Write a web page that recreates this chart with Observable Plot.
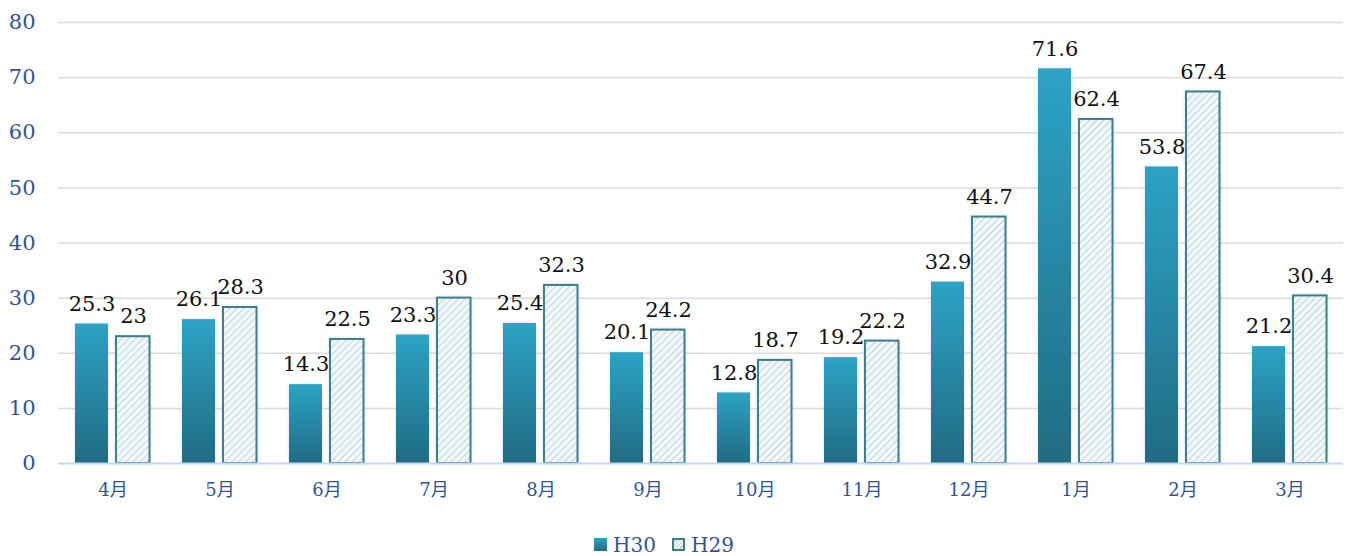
<!DOCTYPE html>
<html><head><meta charset="utf-8">
<script src="https://cdn.jsdelivr.net/npm/d3@7"></script>
<script src="https://cdn.jsdelivr.net/npm/@observablehq/plot@0.6"></script>
<style>
body{margin:0;background:#fff;font-family:"DejaVu Serif","Noto Sans CJK JP",serif;}
#chart svg{display:block;}
#legend{height:31px;padding-top:4px;display:flex;justify-content:center;align-items:center;font-size:20px;color:#2f5496;padding-right:26px;}
#legend .item{display:flex;align-items:center;margin:0 8px;}
#legend .sw{width:13px;height:13px;margin-right:6px;box-sizing:border-box;}
</style></head><body>
<div id="chart"></div>
<div id="legend"></div>
<script>
const months = ["4月","5月","6月","7月","8月","9月","10月","11月","12月","1月","2月","3月"];
const seriesNames = ["H30","H29"];
const h30 = [25.3,26.1,14.3,23.3,25.4,20.1,12.8,19.2,32.9,71.6,53.8,21.2];
const h29 = [23,28.3,22.5,30,32.3,24.2,18.7,22.2,44.7,62.4,67.4,30.4];
const yTicks = [0,10,20,30,40,50,60,70,80];

const d30 = months.map((m,i)=>({month:m, series:"H30", value:h30[i]}));
const d29 = months.map((m,i)=>({month:m, series:"H29", value:h29[i]}));

const font = '"DejaVu Serif","Noto Sans CJK JP",serif';
const chart = Plot.plot({
  width:1354, height:525,
  marginTop:22, marginBottom:62, marginLeft:58, marginRight:11,
  style:{fontFamily:font, background:"white", overflow:"visible"},
  x:{domain:months, padding:0, label:null},
  y:{domain:[0,80], label:null},
  marks:[
    Plot.ruleY(yTicks.filter(d=>d>0), {stroke:"#dcdcdc", strokeWidth:1.5}),
    Plot.axisY({ticks:yTicks, tickSize:0, tickPadding:23, fontSize:21, fill:"#2f5496", label:null}),
    Plot.axisX({tickSize:0, tickPadding:20, fontSize:18, fill:"#2f5496", label:null}),
    Plot.barY(d30, {x:"month", y:"value", insetLeft:16, insetRight:58, fill:"url(#gradH30)", className:"b30"}),
    Plot.barY(d29, {x:"month", y:"value", insetLeft:57, insetRight:16.5, fill:"url(#hatchH29)", stroke:"#3f7f8c", strokeWidth:2, className:"b29"}),
    Plot.ruleY([0], {stroke:"#c6d6ec", strokeWidth:2}),
    Plot.text(d30, {x:"month", y:"value", text:d=>String(d.value), dx:-21, dy:-20, fontSize:21, fill:"#111"}),
    Plot.text(d29, {x:"month", y:"value", text:d=>String(d.value), dx:20.5, dy:-20, fontSize:21, fill:"#111"})
  ]
});

const svg = d3.select(chart);
const defs = svg.insert("defs", ":first-child");
const g = defs.append("linearGradient").attr("id","gradH30").attr("x1",0).attr("y1",0).attr("x2",0).attr("y2",1);
g.append("stop").attr("offset","0%").attr("stop-color","#2da3c5");
g.append("stop").attr("offset","100%").attr("stop-color","#216b83");
const p = defs.append("pattern").attr("id","hatchH29").attr("patternUnits","userSpaceOnUse")
  .attr("width",5).attr("height",5).attr("patternTransform","rotate(45)");
p.append("rect").attr("width",5).attr("height",5).attr("fill","#f1f8fa");
p.append("line").attr("x1",0).attr("y1",0).attr("x2",0).attr("y2",5).attr("stroke","#bccdd3").attr("stroke-width",1.7);
const f = defs.append("filter").attr("id","sh").attr("x","-20%").attr("y","-5%").attr("width","140%").attr("height","110%");
f.append("feDropShadow").attr("dx",0).attr("dy",0).attr("stdDeviation",1.5).attr("flood-color","#6a9fae").attr("flood-opacity",0.35);
svg.selectAll(".b30 rect, .b29 rect").attr("filter","url(#sh)");

document.getElementById("chart").appendChild(chart);

const legend = d3.select("#legend");
const i1 = legend.append("div").attr("class","item");
i1.append("div").attr("class","sw").style("background","linear-gradient(#2da3c5,#216b83)");
i1.append("span").text(seriesNames[0]);
const i2 = legend.append("div").attr("class","item");
i2.append("div").attr("class","sw").style("border","2px solid #3f7f8c")
  .style("background","repeating-linear-gradient(-45deg,#f1f8fa 0 2px,#bccdd3 2px 3px)");
i2.append("span").text(seriesNames[1]);
</script>
</body></html>
